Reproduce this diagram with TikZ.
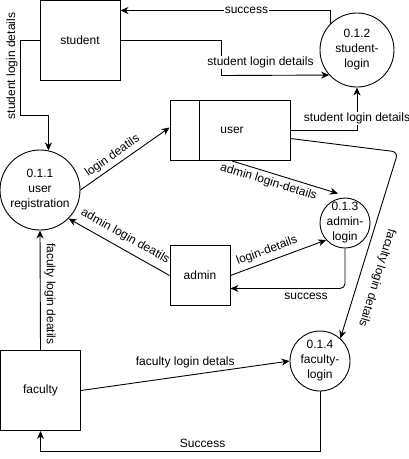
\documentclass[tikz,border=0pt]{standalone}
\usepackage{fontspec}
\setmainfont{Liberation Sans}
\usetikzlibrary{arrows.meta}
\begin{document}
\begin{tikzpicture}[x=1pt,y=-1pt,
  every node/.style={font=\fontsize{12}{15}\selectfont},
  ent/.style={draw, line width=0.9pt, inner sep=0pt},
  proc/.style={draw, circle, line width=0.9pt, inner sep=0pt},
  ptext/.style={align=center, inner sep=0pt},
  arr/.style={line width=0.9pt, -{Stealth[length=8pt,width=7pt,inset=2.5pt]}},
  rarr/.style={line width=0.9pt, {Stealth[length=8pt,width=7pt,inset=2.5pt]}-},
  lbl/.style={fill=white, inner sep=1pt},
  vlbl/.style={inner sep=0pt, anchor=south},
]
\useasboundingbox (0,0) rectangle (409,459);
\fill[white] (0,0) rectangle (409,459);

% entities
\node[ent, minimum width=80pt, minimum height=80pt] (student) at (80,40.5) {student};
\node[ent, minimum width=120pt, minimum height=60pt] (user) at (230,130.5) {};
\draw[line width=0.9pt] ([xshift=30pt]user.north west) -- ([xshift=30pt]user.south west);
\node (usert) at (232,130) {user};
\node[ent, minimum width=60pt, minimum height=60pt] (admin) at (200,275.5) {admin};
\node[ent, minimum width=80pt, minimum height=80pt] (faculty) at (40.5,390.5) {faculty};

% processes
\node[proc, minimum size=80pt] (c1) at (40,190) {};
\node[ptext] (c1t) at (c1) {0.1.1\\user\\registration};
\node[proc, minimum size=74pt] (c2) at (357,50) {};
\node[ptext] (c2t) at (c2) {0.1.2\\student-\\login};
\node[proc, minimum size=50pt] (c3) at (345,223) {};
\node[ptext] (c3t) at (c3) {0.1.3\\admin-\\login};
\node[proc, minimum size=60pt] (c4) at (320,361) {};
\node[ptext] (c4t) at (c4) {0.1.4\\faculty-\\login};

% student-login flows
\draw[arr] (c2.135) |- ([yshift=30pt]student.east) node[lbl, pos=0.7] {success};
\draw[arr] (student.east) -- (221.5,40.5) -- (221.5,75.5)
  node[lbl, pos=0.63, xshift=39pt] {student login details} -- (c2.222);
\draw[arr] (user.east) -| (c2.south) node[lbl, pos=0.64] {student login details};

% user to faculty-login
\coordinate (bend) at (398,152);
\draw[arr, rounded corners=6pt] ([yshift=-8pt]user.east) -- (bend) -- (c4.48);
\node[inner sep=0pt, rotate=-107] (fldl) at (377,278) {faculty login details};

% user registration flows
\draw[arr] (student.west) -| (20.5,115.5)
  node[vlbl, pos=0.67, rotate=90, outer sep=3pt] {student login details} -| (c1.78);
\draw[arr] (c1.east) -- ([yshift=3pt]user.west) node[pos=0.42, sloped, above] {login deatils};
\draw[rarr] (c1.-45) -- (admin.west) node[pos=0.5, sloped, above=3pt] {admin login deatils};
\draw[arr] (faculty.north) -- (c1.south)
  node[vlbl, pos=0.47, rotate=-90, outer sep=4pt] {faculty login deatils};

% admin-login flows
\draw[arr] ([xshift=2pt]user.south) -- ([shift={(-7pt,4pt)}]c3.north)
  node[pos=0.37, sloped, below] {admin login-details};
\draw[arr] (admin.east) -- (c3.222) node[pos=0.42, sloped, above=1pt] {login-details};
\draw[arr, rounded corners=5pt] (c3.south) |- ([yshift=-13pt]admin.east)
  node[pos=0.67, below=1pt] {success};

% faculty-login flows
\draw[arr] (faculty.east) -- (c4.west) node[pos=0.5, above=4pt] {faculty login detals};
\draw[arr] (c4.south) |- ([yshift=-20pt]faculty.south) node[pos=0.71, above=0pt] {Success}
  -- (faculty.south);
\end{tikzpicture}
\end{document}
